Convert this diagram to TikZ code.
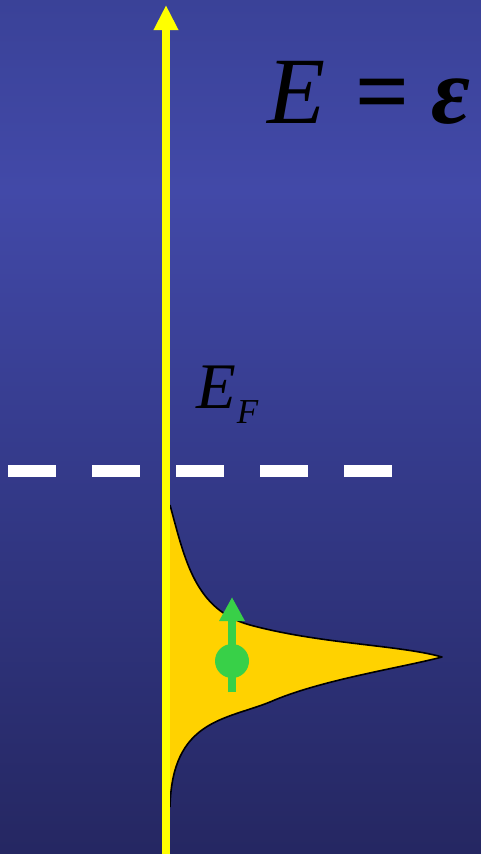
\documentclass[tikz,border=0pt]{standalone}
\usepackage{fontspec}
\setmainfont{Liberation Serif}
\usetikzlibrary{arrows.meta}
\definecolor{bgA}{RGB}{58,66,152}
\definecolor{bgB}{RGB}{66,73,168}
\definecolor{bgC}{RGB}{52,58,138}
\definecolor{bgD}{RGB}{37,39,98}
\definecolor{axisyellow}{RGB}{255,255,0}
\definecolor{dosgold}{RGB}{255,210,0}
\definecolor{spingreen}{RGB}{56,208,72}
\tikzset{
  axisline/.style={draw=axisyellow,line width=8pt,-{Triangle[width=23pt,length=25pt]}},
  fermiline/.style={draw=white,line width=12pt,dash pattern=on 48pt off 36pt},
  dosfill/.style={fill=dosgold},
  dosedge/.style={draw=black,line width=1.6pt,line join=round},
  spinarrow/.style={draw=spingreen,line width=8pt,-{Triangle[width=24pt,length=24pt]}},
  spinball/.style={fill=spingreen},
  bigtext/.style={inner sep=0pt,anchor=base west,text=black}
}
\begin{document}
\begin{tikzpicture}[x=1pt,y=-1pt]
\useasboundingbox (0,0) rectangle (481,854);
% background
\shade[top color=bgA,bottom color=bgB] (0,0) rectangle (481,190);
\shade[top color=bgB,bottom color=bgC] (0,189.5) rectangle (481,470);
\shade[top color=bgC,bottom color=bgD] (0,469.5) rectangle (481,854);
% density of states
\coordinate (d0) at (170,505);
\coordinate (d1) at (250,625);
\coordinate (dtip) at (442,657);
\coordinate (d3) at (270,702);
\coordinate (d4) at (170,807);
\fill[dosfill] (d0) .. controls (185,560) and (195,610) .. (d1)
  .. controls (320,644) and (400,645) .. (dtip)
  .. controls (400,668) and (320,680) .. (d3)
  .. controls (225,720) and (172,720) .. (d4) -- cycle;
\draw[dosedge] (d0) .. controls (185,560) and (195,610) .. (d1)
  .. controls (320,644) and (400,645) .. (dtip)
  .. controls (400,668) and (320,680) .. (d3)
  .. controls (225,720) and (172,720) .. (d4);
% spin
\coordinate (spinbot) at (232,692);
\coordinate (spintop) at (232,597);
\draw[spinarrow] (spinbot) -- (spintop);
\fill[spinball] (232,661) circle (17);
% Fermi level
\coordinate (fl) at (8,471);
\coordinate (fr) at (392,471);
\draw[fermiline] (fl) -- (fr);
% energy axis
\coordinate (axbot) at (166,856);
\coordinate (axtop) at (166,5);
\draw[axisline] (axbot) -- (axtop);
% labels
\node[bigtext] (eqn) at (267,123) {\fontsize{95}{95}\selectfont\itshape E\hspace{30pt}{\upshape\bfseries =}\hspace{22pt}{\bfseries ε}};
\node[bigtext] (ef) at (196,408) {\fontsize{65}{65}\selectfont\itshape E\hspace{1pt}\raisebox{-15pt}{\fontsize{35}{35}\selectfont F}};
\end{tikzpicture}
\end{document}
